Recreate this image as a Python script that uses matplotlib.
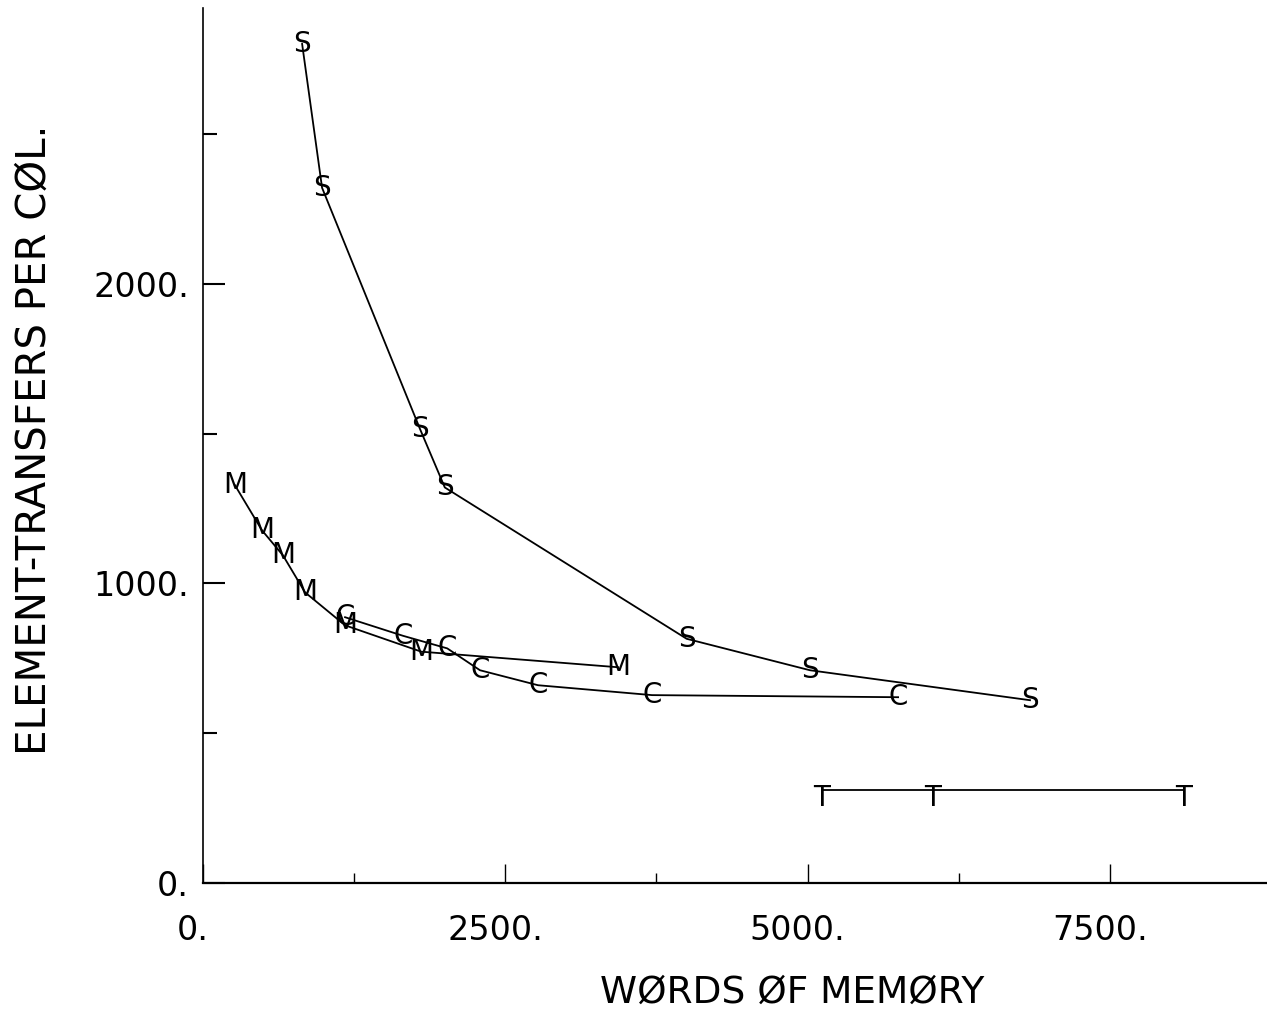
import matplotlib
matplotlib.use("Agg")
import matplotlib.pyplot as plt
import matplotlib.transforms as mtransforms
from matplotlib.ticker import FixedLocator

plt.rcParams["font.family"] = ["DejaVu Sans"]

# -------------------------
# Data
# -------------------------
s_words = [820, 985, 1795, 2000, 4000, 5020, 6840]
s_transfers = [2800, 2320, 1515, 1320, 815, 710, 610]

m_words = [265, 488, 662, 844, 1175, 1805, 3433]
m_transfers = [1327, 1177, 1093, 970, 860, 772, 720]

c_words = [1175, 1654, 2020, 2291, 2771, 3714, 5749]
c_transfers = [887, 825, 783, 710, 660, 627, 620]

t_words = [5120, 6030, 8106]
t_transfers = [310, 310, 310]

series = [
    ("S", s_words, s_transfers),
    ("M", m_words, m_transfers),
    ("C", c_words, c_transfers),
    ("T", t_words, t_transfers),
]

x_ticks = [0, 2500, 5000, 7500]
x_tick_labels = ["0.", "2500.", "5000.", "7500."]
x_minor = [1250, 3750, 6250]
y_ticks = [0, 1000, 2000]
y_tick_labels = ["0.", "1000.", "2000."]
y_minor = [500, 1500, 2500]

# -------------------------
# Figure
# -------------------------
fig = plt.figure(figsize=(12.67, 10.11), dpi=100)
ax = fig.add_axes([0.1602, 0.1266, 0.8398, 0.8655])

for letter, xs, ys in series:
    ax.plot(xs, ys, color="black", linewidth=1.3)
    for x, y in zip(xs, ys):
        if letter == "T":
            # crossbar of the T sits on the line
            ax.text(x, y, letter, ha="center", va="top", fontsize=20,
                    color="black",
                    transform=ax.transData + mtransforms.ScaledTranslation(
                        0, 6 / 100, fig.dpi_scale_trans))
        else:
            ax.text(x, y, letter, ha="center", va="center", fontsize=20,
                    color="black")

ax.set_xlim(0, 8800)
ax.set_ylim(0, 2920)

ax.spines["top"].set_visible(False)
ax.spines["right"].set_visible(False)
ax.spines["left"].set_linewidth(1.2)
ax.spines["bottom"].set_linewidth(1.6)

ax.xaxis.set_major_locator(FixedLocator(x_ticks))
ax.set_xticklabels(x_tick_labels)
ax.xaxis.set_minor_locator(FixedLocator(x_minor))
ax.yaxis.set_major_locator(FixedLocator(y_ticks))
ax.set_yticklabels(y_tick_labels)
ax.yaxis.set_minor_locator(FixedLocator(y_minor))

ax.tick_params(axis="x", which="major", direction="in", length=14,
               width=1, pad=22, labelsize=24)
ax.tick_params(axis="x", which="minor", direction="in", length=7, width=1)
ax.tick_params(axis="y", which="major", direction="in", length=16,
               width=1.5, pad=10, labelsize=24)
ax.tick_params(axis="y", which="minor", direction="in", length=10,
               width=1.5)

# labels in the original sit a little left of their ticks
shift = mtransforms.ScaledTranslation(-10 / 100, 0, fig.dpi_scale_trans)
for lbl in ax.get_xticklabels():
    lbl.set_transform(lbl.get_transform() + shift)

ax.set_xlabel("WØRDS ØF MEMØRY", fontsize=27, labelpad=20, x=0.554)
ax.set_ylabel("ELEMENT-TRANSFERS PER CØL.", fontsize=29, labelpad=28,
              y=0.506)

fig.savefig("out.png", dpi=100)
